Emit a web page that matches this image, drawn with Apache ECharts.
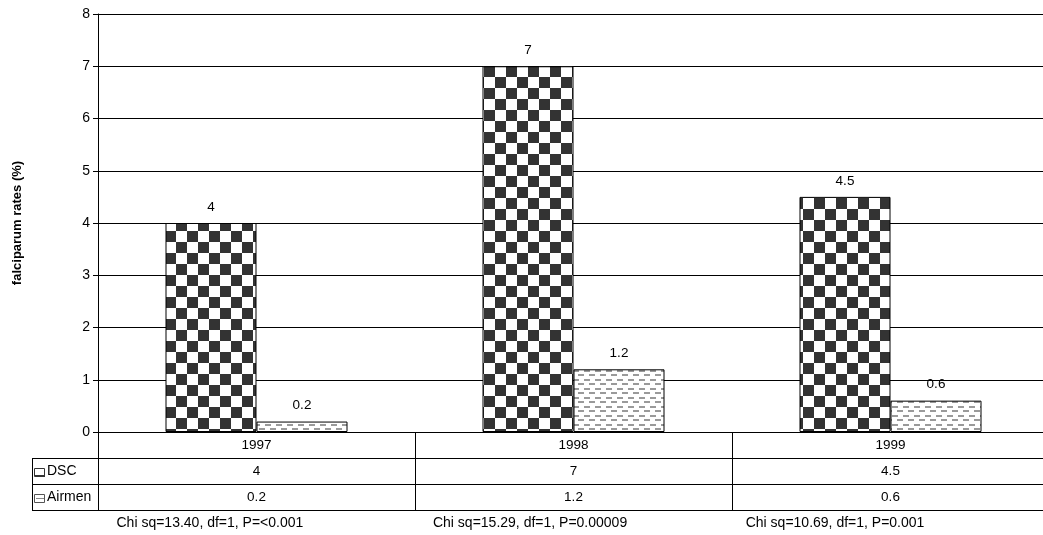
<!DOCTYPE html>
<html>
<head>
<meta charset="utf-8">
<script src="https://cdn.jsdelivr.net/npm/echarts@6/dist/echarts.min.js"></script>
<style>
html,body{margin:0;padding:0;background:#fff;}
#c{width:1043px;height:535px;}
</style>
</head>
<body>
<div id="c"></div>
<script>
const categories = ['1997', '1998', '1999'];
const seriesNames = ['DSC', 'Airmen'];
const dscValues = [4, 7, 4.5];
const airmenValues = [0.2, 1.2, 0.6];
const yMin = 0, yMax = 8, yInterval = 1;
const yAxisTitle = 'falciparum rates (%)';
const chiNotes = ['Chi sq=13.40, df=1, P=<0.001', 'Chi sq=15.29, df=1, P=0.00009', 'Chi sq=10.69, df=1, P=0.001'];

const FONT = 'Liberation Sans, Arial, sans-serif';
const FS = 13.5;
const FS_AXIS = 14;
const FS_NOTE = 14;

function checkerPattern() {
  const c = document.createElement('canvas');
  c.width = 22; c.height = 22;
  const g = c.getContext('2d');
  g.fillStyle = '#fff'; g.fillRect(0, 0, 22, 22);
  g.fillStyle = '#333';
  g.fillRect(0, 0, 11, 11);
  g.fillRect(11, 11, 11, 11);
  return c;
}
function dashPattern() {
  const c = document.createElement('canvas');
  c.width = 11; c.height = 9;
  const g = c.getContext('2d');
  g.fillStyle = '#fff'; g.fillRect(0, 0, 11, 9);
  g.fillStyle = '#9a9a9a';
  g.fillRect(1, 1, 6, 2);
  g.fillRect(6, 5, 5, 2);
  g.fillRect(0, 5, 1, 2);
  return c;
}

const chart = echarts.init(document.getElementById('c'), null, {renderer: 'canvas'});
const labelCfg = {show: true, position: 'top', distance: 9, color: '#000', fontSize: FS, fontFamily: FONT};

chart.setOption({
  animation: false,
  backgroundColor: '#fff',
  grid: {left: 98, width: 951, top: 14, bottom: 103, containLabel: false, outerBoundsMode: 'none'},
  xAxis: {
    type: 'category',
    data: categories,
    axisLine: {show: true, lineStyle: {color: '#000', width: 1}},
    axisTick: {show: false},
    axisLabel: {color: '#000', fontSize: FS, fontFamily: FONT, margin: 6},
    splitLine: {show: false}
  },
  yAxis: {
    type: 'value',
    min: yMin, max: yMax, interval: yInterval,
    name: yAxisTitle,
    nameLocation: 'middle',
    nameGap: 74,
    nameTextStyle: {color: '#000', fontSize: 13, fontWeight: 'bold', fontFamily: FONT},
    axisLine: {show: true, lineStyle: {color: '#000', width: 1}},
    axisTick: {show: true, inside: false, length: 5, lineStyle: {color: '#000'}},
    axisLabel: {color: '#000', fontSize: FS_AXIS, fontFamily: FONT, margin: 8},
    splitLine: {show: true, lineStyle: {color: '#000', width: 1}}
  },
  series: [
    {
      name: seriesNames[0], type: 'bar', data: dscValues,
      barWidth: 91, barGap: '0%',
      itemStyle: {color: {image: checkerPattern(), repeat: 'repeat'}, borderColor: '#000', borderWidth: 1},
      label: labelCfg
    },
    {
      name: seriesNames[1], type: 'bar', data: airmenValues,
      barWidth: 91, barGap: '0%',
      itemStyle: {color: {image: dashPattern(), repeat: 'repeat'}, borderColor: '#000', borderWidth: 1},
      label: labelCfg
    }
  ]
});

function buildTable() {
  const c0 = chart.convertToPixel({xAxisIndex: 0}, 0);
  const c1 = chart.convertToPixel({xAxisIndex: 0}, 1);
  const band = c1 - c0;
  const y0 = Math.round(chart.convertToPixel({yAxisIndex: 0}, 0));
  const rowH = 26;
  const rightX = Math.round(c0 + band * (categories.length - 0.5));
  const keyLeft = 32;
  const els = [];
  const ls = {stroke: '#000', lineWidth: 1};
  function hline(x1, x2, y) { els.push({type: 'line', shape: {x1: x1, y1: y + 0.5, x2: x2, y2: y + 0.5}, style: ls, silent: true}); }
  function vline(x, y1, y2) { els.push({type: 'line', shape: {x1: x + 0.5, y1: y1, x2: x + 0.5, y2: y2}, style: ls, silent: true}); }
  hline(keyLeft, rightX, y0 + rowH);
  hline(keyLeft, rightX, y0 + 2 * rowH);
  hline(keyLeft, rightX, y0 + 3 * rowH);
  vline(keyLeft, y0 + rowH, y0 + 3 * rowH + 1);
  for (let i = 0; i < categories.length; i++) {
    vline(Math.round(c0 - band / 2 + i * band), y0, y0 + 3 * rowH + 1);
  }
  const rows = [dscValues, airmenValues];
  rows.forEach(function (vals, r) {
    const yc = y0 + rowH * (r + 1) + rowH / 2 + 0.5;
    vals.forEach(function (v, i) {
      els.push({type: 'text', x: c0 + i * band, y: yc, silent: true,
        style: {text: String(v), fill: '#000', font: FS + 'px ' + FONT, textAlign: 'center', textVerticalAlign: 'middle'}});
    });
    els.push({type: 'text', x: 47, y: yc, silent: true,
      style: {text: seriesNames[r], fill: '#000', font: '14px ' + FONT, textAlign: 'left', textVerticalAlign: 'middle'}});
  });
  // legend keys
  const k1y = y0 + rowH + 10;
  els.push({type: 'rect', shape: {x: 34.5, y: k1y + 0.5, width: 10, height: 8}, style: {fill: '#fff', stroke: '#333', lineWidth: 1}, silent: true});
  els.push({type: 'rect', shape: {x: 35, y: k1y + 7, width: 10, height: 2}, style: {fill: '#333'}, silent: true});
  const k2y = y0 + 2 * rowH + 10;
  els.push({type: 'rect', shape: {x: 34.5, y: k2y + 0.5, width: 10, height: 8}, style: {fill: '#fff', stroke: '#555', lineWidth: 1}, silent: true});
  els.push({type: 'line', shape: {x1: 36, y1: k2y + 4.5, x2: 44, y2: k2y + 4.5}, style: {stroke: '#888', lineWidth: 1}, silent: true});
  // chi-square notes
  const noteFrac = [0.353, 0.363, 0.325];
  chiNotes.forEach(function (t, i) {
    els.push({type: 'text', x: c0 - band / 2 + i * band + band * noteFrac[i], y: y0 + 3 * rowH + 13, silent: true,
      style: {text: t, fill: '#000', font: FS_NOTE + 'px ' + FONT, textAlign: 'center', textVerticalAlign: 'middle'}});
  });
  chart.setOption({graphic: {elements: els}});
}
buildTable();
</script>
</body>
</html>
